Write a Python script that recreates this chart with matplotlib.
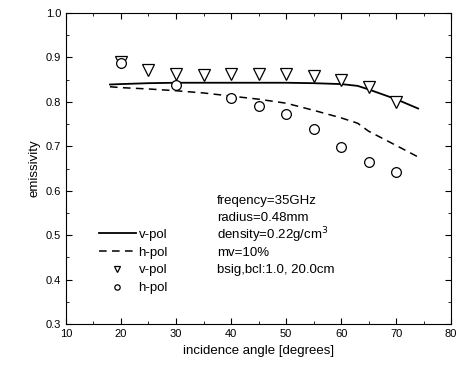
import matplotlib.pyplot as plt
from matplotlib.ticker import MultipleLocator

plt.rcParams['font.family'] = ['Liberation Sans', 'DejaVu Sans']

# model curves
ang_model = [18, 20, 25, 30, 35, 40, 45, 50, 55, 60, 63, 65, 70, 74]
v_model = [0.839, 0.840, 0.842, 0.843, 0.843, 0.843, 0.843, 0.843, 0.842, 0.840, 0.836, 0.828, 0.806, 0.785]
h_model = [0.834, 0.832, 0.829, 0.825, 0.820, 0.813, 0.806, 0.797, 0.781, 0.764, 0.752, 0.734, 0.702, 0.676]

# measurements
ang_v = [20, 25, 30, 35, 40, 45, 50, 55, 60, 65, 70]
v_meas = [0.890, 0.872, 0.863, 0.861, 0.863, 0.863, 0.862, 0.859, 0.849, 0.833, 0.800]
ang_h = [20, 30, 40, 45, 50, 55, 60, 65, 70]
h_meas = [0.887, 0.839, 0.809, 0.790, 0.772, 0.740, 0.699, 0.664, 0.642]

fig = plt.figure(figsize=(4.58, 3.70), dpi=100)
ax = fig.add_axes([0.144, 0.124, 0.841, 0.841])

ax.plot(ang_model, v_model, 'k-', lw=1.3, label='v-pol')
ax.plot(ang_model, h_model, 'k--', lw=1.1, dashes=(5, 3.5), label='h-pol')
ax.plot(ang_v, v_meas, 'v', ms=8.5, mfc='white', mec='k', mew=0.9, ls='none', label='v-pol')
ax.plot(ang_h, h_meas, 'o', ms=7, mfc='white', mec='k', mew=0.9, ls='none', label='h-pol')

ax.set_xlim(10, 80)
ax.set_ylim(0.3, 1.0)
ax.xaxis.set_major_locator(MultipleLocator(10))
ax.xaxis.set_minor_locator(MultipleLocator(5))
ax.yaxis.set_major_locator(MultipleLocator(0.1))
ax.yaxis.set_minor_locator(MultipleLocator(0.05))
ax.tick_params(which='both', direction='in', top=True, right=True, labelsize=8)
ax.tick_params(which='major', length=4)
ax.tick_params(which='minor', length=2)
ax.set_xlabel('incidence angle [degrees]', fontsize=9.5)
ax.set_ylabel('emissivity', fontsize=9.5)

ax.legend(loc='lower left', bbox_to_anchor=(0.055, 0.058), frameon=False, fontsize=9.5,
          handlelength=2.8, handletextpad=0.2, labelspacing=0.42, markerscale=0.55)

info = ['freqency=35GHz', 'radius=0.48mm', 'density=0.22g/cm$^3$', 'mv=10%', 'bsig,bcl:1.0, 20.0cm']
for i, t in enumerate(info):
    ax.text(0.392, 0.396 - i * 0.0555, t, transform=ax.transAxes, fontsize=9.5, va='center')

fig.savefig('out.png', dpi=100)
